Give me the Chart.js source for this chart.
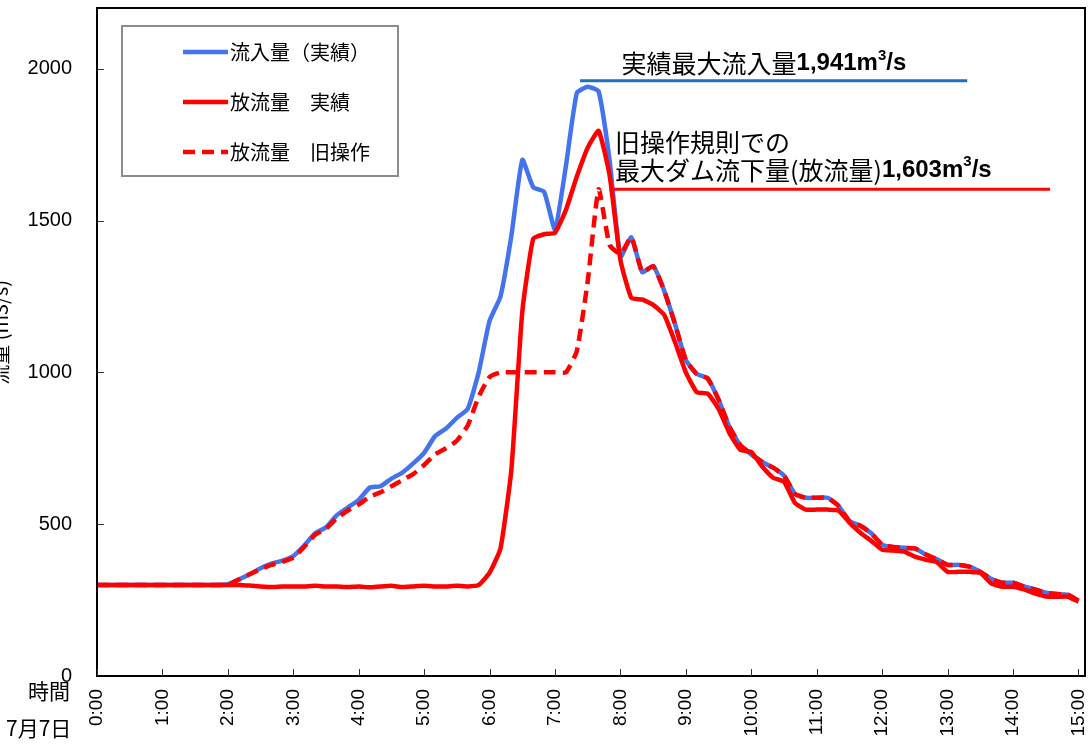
<!DOCTYPE html>
<html>
<head>
<meta charset="utf-8">
<script src="https://cdn.jsdelivr.net/npm/chart.js@4.4.0/dist/chart.umd.min.js"></script>
<style>
  html, body { margin: 0; padding: 0; background: #fff; }
</style>
</head>
<body>
<canvas id="c" width="1089" height="747"></canvas>
<script>
// 10-minute steps from 0:00 to 15:00 (minutes)
const minutes = Array.from({ length: 91 }, (_, i) => i * 10);

const xTicks = [0, 60, 120, 180, 240, 300, 360, 420, 480, 540, 600, 660, 720, 780, 840, 900];
const xTickLabels = ['0:00', '1:00', '2:00', '3:00', '4:00', '5:00', '6:00', '7:00', '8:00', '9:00',
  '10:00', '11:00', '12:00', '13:00', '14:00', '15:00'];
const yTicks = [0, 500, 1000, 1500, 2000];

const seriesLabels = ['流入量（実績）', '放流量　実績', '放流量　旧操作'];

// 流入量（実績）
const inflow = [
  300, 300, 300, 300, 300, 300, 300, 300, 300, 300, 300, 300,
  302, 318, 335, 355, 370, 380, 395, 430, 470, 490, 530, 555,
  580, 620, 625, 650, 670, 700, 735, 790, 815, 850, 880, 1000,
  1170, 1250, 1450, 1700, 1610, 1595, 1470, 1680, 1920, 1941, 1925, 1700,
  1380, 1445, 1330, 1350, 1270, 1160, 1040, 995, 980, 910, 820, 760,
  730, 705, 686, 660, 600, 587, 587, 587, 560, 510, 495, 470,
  432, 425, 422, 420, 400, 385, 366, 366, 360, 343, 320, 307,
  307, 295, 285, 274, 270, 268, 248
];

// 放流量 実績
const outflow = [
  300, 300, 300, 300, 300, 300, 300, 300, 300, 300, 300, 300,
  300, 300, 298, 295, 293, 295, 295, 295, 297, 295, 295, 293,
  295, 292, 295, 297, 293, 295, 297, 295, 295, 297, 295, 300,
  340, 420, 680, 1200, 1440, 1455, 1460, 1535, 1645, 1740, 1795, 1650,
  1370, 1245, 1240, 1222, 1190, 1100, 1000, 935, 930, 880, 800, 745,
  738, 690, 653, 640, 570, 548, 548, 548, 545, 505, 472, 445,
  416, 413, 410, 393, 383, 375, 343, 343, 343, 340, 305, 294,
  294, 285, 272, 262, 261, 261, 245
];

// 放流量 旧操作
const oldRule = [
  300, 300, 300, 300, 300, 300, 300, 300, 300, 300, 300, 300,
  300, 318, 335, 352, 366, 376, 390, 425, 465, 485, 520, 545,
  565, 590, 605, 625, 645, 665, 695, 730, 750, 775, 825, 920,
  985, 1000, 1000, 1000, 1000, 1000, 1000, 1000, 1070, 1300, 1603, 1420,
  1390, 1445, 1330, 1350, 1270, 1160, 1040, 995, 980, 910, 820, 760,
  730, 705, 686, 660, 600, 587, 587, 587, 560, 510, 495, 470,
  432, 425, 422, 420, 400, 385, 366, 366, 360, 343, 320, 307,
  307, 295, 285, 274, 270, 268, 248
];

const BLUE = '#4473ee';
const RED = '#ff0000';
const JP = '"Noto Sans CJK JP", "Noto Sans", sans-serif';
const LAT = '"Liberation Sans", Arial, sans-serif';

const toXY = arr => arr.map((v, i) => ({ x: minutes[i], y: v }));

// frame, inner tick marks, legend, notes
const decorations = {
  id: 'decorations',
  afterDatasetsDraw(chart) {
    const { ctx, chartArea: a, scales: { x, y } } = chart;
    ctx.save();

    // plot frame
    ctx.strokeStyle = '#000';
    ctx.lineWidth = 2;
    ctx.strokeRect(a.left, a.top, a.right - a.left, a.bottom - a.top);

    // inward ticks
    ctx.lineWidth = 1;
    ctx.strokeStyle = '#333';
    yTicks.forEach(v => {
      if (v === 0) return;
      const py = Math.round(y.getPixelForValue(v)) + 0.5;
      ctx.beginPath(); ctx.moveTo(a.left, py); ctx.lineTo(a.left + 7, py); ctx.stroke();
    });
    xTicks.forEach(v => {
      const px = Math.round(x.getPixelForValue(v)) + 0.5;
      ctx.beginPath(); ctx.moveTo(px, a.bottom); ctx.lineTo(px, a.bottom - 7); ctx.stroke();
    });

    // legend box
    const lx = a.left + 25, ly = a.top + 18, lw = 276, lh = 150;
    ctx.fillStyle = '#fff';
    ctx.fillRect(lx, ly, lw, lh);
    ctx.strokeStyle = '#8c8c8c';
    ctx.lineWidth = 2;
    ctx.strokeRect(lx, ly, lw, lh);
    [0, 1, 2].forEach((di, k) => {
      const ds = chart.data.datasets[di];
      const ry = ly + 26 + k * 50;
      ctx.strokeStyle = ds.borderColor;
      ctx.lineWidth = 4.5;
      ctx.setLineDash(ds.borderDash || []);
      ctx.beginPath(); ctx.moveTo(lx + 61, ry); ctx.lineTo(lx + 106, ry); ctx.stroke();
      ctx.setLineDash([]);
      ctx.fillStyle = '#000';
      ctx.font = '20px ' + JP;
      ctx.textBaseline = 'middle';
      ctx.textAlign = 'left';
      ctx.fillText(ds.label, lx + 108, ry);
    });

    const drawRich = (parts, px, py) => {
      ctx.textBaseline = 'middle';
      ctx.textAlign = 'left';
      parts.forEach(p => {
        ctx.font = p.font;
        ctx.fillStyle = '#000';
        ctx.fillText(p.t, px, py + (p.dy || 0));
        px += ctx.measureText(p.t).width;
      });
    };
    const value = t => [
      { t: t, font: 'bold 24px ' + LAT },
      { t: '3', font: 'bold 15px ' + LAT, dy: -8 },
      { t: '/s', font: 'bold 24px ' + LAT }
    ];

    // note: max inflow
    const blueY = y.getPixelForValue(1960);
    ctx.strokeStyle = '#1c6fbf';
    ctx.lineWidth = 3;
    ctx.beginPath(); ctx.moveTo(x.getPixelForValue(443), blueY); ctx.lineTo(x.getPixelForValue(798), blueY); ctx.stroke();
    drawRich([{ t: '実績最大流入量', font: '25px ' + JP }, ...value('1,941m')],
      x.getPixelForValue(481), blueY - 17);

    // note: old-rule max discharge
    const redY = y.getPixelForValue(1603);
    ctx.strokeStyle = RED;
    ctx.lineWidth = 3;
    ctx.beginPath(); ctx.moveTo(x.getPixelForValue(470), redY); ctx.lineTo(x.getPixelForValue(874), redY); ctx.stroke();
    const nx = x.getPixelForValue(475);
    drawRich([{ t: '旧操作規則での', font: '25px ' + JP }], nx, redY - 47);
    drawRich([{ t: '最大ダム流下量(放流量)', font: '25px ' + JP }, ...value('1,603m')], nx, redY - 19);

    // axis captions
    ctx.fillStyle = '#000';
    ctx.font = '21px ' + JP;
    ctx.textAlign = 'left';
    ctx.textBaseline = 'middle';
    ctx.fillText('時間', 28, a.bottom + 15);
    ctx.fillText('7月7日', 6, a.bottom + 52);

    ctx.save();
    ctx.translate(0, y.getPixelForValue(1000) - 40);
    ctx.rotate(-Math.PI / 2);
    ctx.textAlign = 'center';
    ctx.font = '20px ' + JP;
    ctx.fillText('流量 (m3/s)', 0, 0);
    ctx.restore();

    ctx.restore();
  }
};

new Chart(document.getElementById('c').getContext('2d'), {
  type: 'line',
  data: {
    datasets: [
      { label: seriesLabels[0], data: toXY(inflow), borderColor: BLUE, borderWidth: 4.5, order: 3 },
      { label: seriesLabels[1], data: toXY(outflow), borderColor: RED, borderWidth: 4.5, order: 2 },
      { label: seriesLabels[2], data: toXY(oldRule), borderColor: RED, borderWidth: 4.5, borderDash: [12, 7], order: 1 }
    ]
  },
  options: {
    responsive: false,
    animation: false,
    layout: { padding: { top: 8, right: 4, left: 0, bottom: 0 } },
    elements: { point: { radius: 0 }, line: { tension: 0.15, fill: false } },
    plugins: { legend: { display: false }, tooltip: { enabled: false } },
    scales: {
      x: {
        type: 'linear',
        min: 0,
        max: 906,
        afterBuildTicks: s => { s.ticks = xTicks.map(v => ({ value: v })); },
        afterFit: s => {
          s.height = 71;
          s.paddingLeft = 0; s.paddingRight = 0; s.paddingTop = 0; s.paddingBottom = 0;
        },
        grid: { display: false, drawTicks: false },
        border: { display: true, color: '#000', width: 2 },
        ticks: {
          autoSkip: false,
          minRotation: 90,
          maxRotation: 90,
          padding: 13,
          color: '#000',
          font: { family: LAT, size: 19 },
          callback: (v, i) => xTickLabels[i]
        }
      },
      y: {
        min: 0,
        max: 2200,
        afterBuildTicks: s => { s.ticks = yTicks.map(v => ({ value: v })); },
        afterFit: s => {
          s.width = 97;
          s.paddingLeft = 0; s.paddingRight = 0; s.paddingTop = 0; s.paddingBottom = 0;
        },
        grid: { display: false, drawTicks: false },
        border: { display: true, color: '#000', width: 2 },
        ticks: {
          padding: 25,
          color: '#000',
          font: { family: LAT, size: 20 },
          callback: v => String(v)
        }
      }
    }
  },
  plugins: [decorations]
});
</script>
</body>
</html>
